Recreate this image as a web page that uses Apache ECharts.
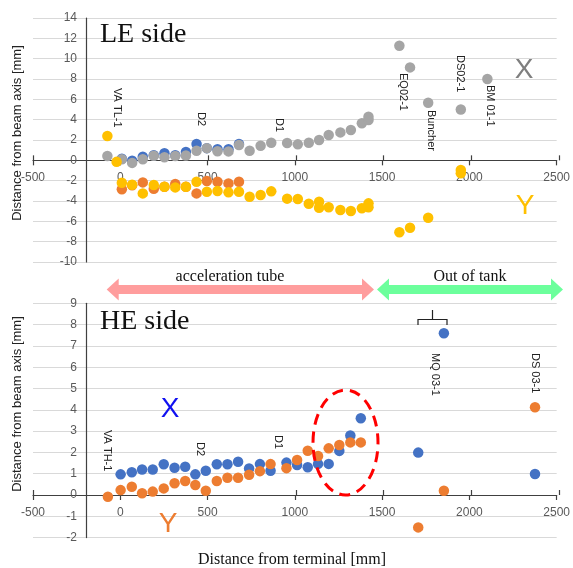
<!DOCTYPE html>
<html>
<head>
<meta charset="utf-8">
<script src="https://cdn.jsdelivr.net/npm/echarts@6/dist/echarts.min.js"></script>
<style>
html,body{margin:0;padding:0;background:#fff;}
#c{width:573px;height:568px;}
</style>
</head>
<body>
<div id="c"></div>
<script>
// ---------- DATA ----------
const xTicks = [-500, 0, 500, 1000, 1500, 2000, 2500];
const leYRange = [-10, 14, 2];   // min, max, step
const heYRange = [-2, 9, 1];

// LE side
const leBlueX   = [9, 68, 129, 192, 253, 315, 376, 437, 496, 557, 620, 680];
const leBlueY   = [0.15, -0.04, 0.36, 0.5, 0.69, 0.5, 0.82, 1.6, 1.2, 1.1, 1.1, 1.6];
const leOrangeX = [9, 68, 129, 192, 253, 315, 376, 437, 496, 557, 620, 680];
const leOrangeY = [-2.85, -2.46, -2.17, -2.79, -2.6, -2.33, -2.6, -3.25, -2.04, -2.1, -2.27, -2.1];
const leGrayX   = [-74, 9, 68, 129, 192, 253, 315, 376, 437, 496, 557, 620, 680, 741, 804, 865, 956, 1017, 1080, 1139, 1194, 1261, 1321, 1384, 1422, 1422, 1599, 1660, 1764, 1951, 2103];
const leGrayY   = [0.42, 0.1, -0.25, 0.1, 0.45, 0.3, 0.43, 0.48, 0.95, 1.2, 0.9, 0.88, 1.5, 0.95, 1.43, 1.73, 1.7, 1.57, 1.73, 2.0, 2.49, 2.75, 2.98, 3.64, 3.96, 4.29, 11.27, 9.14, 5.66, 5.0, 8.0];
const leYellowX = [-74, -21, 9, 68, 129, 192, 253, 315, 376, 437, 496, 557, 620, 680, 741, 804, 865, 956, 1017, 1080, 1139, 1139, 1194, 1261, 1321, 1384, 1422, 1422, 1599, 1660, 1764, 1951, 1951];
const leYellowY = [2.39, -0.15, -2.2, -2.4, -3.25, -2.43, -2.6, -2.66, -2.6, -2.1, -3.09, -3.02, -3.15, -3.09, -3.58, -3.41, -3.05, -3.77, -3.8, -4.27, -4.07, -4.66, -4.62, -4.89, -4.99, -4.72, -4.23, -4.62, -7.08, -6.63, -5.64, -0.95, -1.28];

// HE side
const heBlueX   = [2, 66, 125, 186, 249, 311, 372, 430, 490, 553, 614, 675, 738, 800, 861, 952, 1013, 1074, 1133, 1194, 1255, 1318, 1378, 1707, 1854, 2376];
const heBlueY   = [0.97, 1.07, 1.2, 1.2, 1.44, 1.28, 1.33, 0.97, 1.14, 1.44, 1.44, 1.56, 1.25, 1.45, 1.14, 1.52, 1.41, 1.3, 1.46, 1.46, 2.07, 2.79, 3.6, 1.99, 7.59, 0.99];
const heOrangeX = [-71, 2, 66, 125, 186, 249, 311, 372, 430, 490, 553, 614, 675, 738, 800, 861, 952, 1013, 1074, 1133, 1194, 1255, 1318, 1378, 1707, 1854, 2376];
const heOrangeY = [-0.08, 0.23, 0.39, 0.08, 0.16, 0.31, 0.55, 0.66, 0.47, 0.2, 0.66, 0.81, 0.81, 0.95, 1.12, 1.45, 1.26, 1.64, 2.08, 1.83, 2.19, 2.35, 2.47, 2.47, -1.52, 0.2, 4.12];

const leLabels = [
  {t: 'VA TL-1', x: 117, y: 88}, {t: 'D2', x: 201, y: 112}, {t: 'D1', x: 279, y: 118},
  {t: 'EQ02-1', x: 403, y: 73}, {t: 'Buncher', x: 431, y: 110},
  {t: 'DS02-1', x: 460, y: 55}, {t: 'BM 01-1', x: 490, y: 85}
];
const heLabels = [
  {t: 'VA TH-1', x: 107, y: 430}, {t: 'D2', x: 200, y: 442}, {t: 'D1', x: 278, y: 435},
  {t: 'MQ 03-1', x: 435, y: 353}, {t: 'DS 03-1', x: 535, y: 353}
];

// ---------- CHART ----------
const zip = (xs, ys) => xs.map((x, i) => [x, ys[i]]);
const chart = echarts.init(document.getElementById('c'), null, {renderer: 'canvas'});

const SANS = 'Liberation Sans';
const SERIF = 'Liberation Serif';
const axisCol = '#404040';
const xMin = xTicks[0], xMax = xTicks[xTicks.length - 1], xStep = xTicks[1] - xTicks[0];

const g0 = {left: 33, top: 18, width: 526, height: 244};
const g1 = {left: 33, top: 303.3, width: 526, height: 234.3};
// distance (px) from grid bottom up to value 0 of the y axis
const zeroUp = (g, r) => (0 - r[0]) / (r[1] - r[0]) * g.height;

function mainXAxis(gridIndex, up, margin) {
  return {
    type: 'value', gridIndex, min: xMin, max: xMax, interval: xStep, position: 'bottom', offset: -up,
    axisLine: {onZero: false, lineStyle: {color: axisCol, width: 1.2}},
    axisTick: {show: true, length: 5, lineStyle: {color: axisCol, width: 1.2}},
    axisLabel: {color: '#595959', fontSize: 12, fontFamily: SANS, margin: margin, showMinLabel: true, showMaxLabel: true,
      hideOverlap: false, formatter: v => String(v)},
    splitLine: {show: false}
  };
}
function tickXAxis(gridIndex, up) {
  return {
    type: 'value', gridIndex, min: xMin, max: xMax, interval: xStep, position: 'bottom', offset: -up,
    axisLine: {onZero: false, show: false},
    axisTick: {show: true, length: 5, inside: true, lineStyle: {color: axisCol, width: 1.2}},
    axisLabel: {show: false},
    splitLine: {show: false}
  };
}
function yAxis(gridIndex, r) {
  return {
    type: 'value', gridIndex, min: r[0], max: r[1], interval: r[2], position: 'left', offset: -53,
    axisLine: {show: true, onZero: false, lineStyle: {color: axisCol, width: 1.2}},
    axisTick: {show: false},
    axisLabel: {color: '#595959', fontSize: 12, fontFamily: SANS, margin: 9, formatter: v => String(v)},
    splitLine: {show: true, lineStyle: {color: '#d9d9d9', width: 1.2}}
  };
}
function hiddenY(gridIndex, r) {
  return {type: 'value', gridIndex, min: r[0], max: r[1], interval: r[2], show: false,
    axisLine: {onZero: false}, splitLine: {show: false}};
}
function sc(name, xs, ys, color, xi, yi, z) {
  return {
    name, type: 'scatter', xAxisIndex: xi, yAxisIndex: yi, data: zip(xs, ys),
    symbolSize: 10.5, itemStyle: {color: color, opacity: 1}, z: z, silent: true
  };
}

function vText(l) {
  return {
    type: 'text', x: l.x, y: l.y, rotation: -Math.PI / 2, z: 50,
    style: {text: l.t, fill: '#222', font: '11px "' + SANS + '"', textAlign: 'left', textVerticalAlign: 'middle'}
  };
}
function arrow(x1, x2, cy, color) {
  const sh = 4.5, hh = 11, hl = 12;
  return {
    type: 'polygon', z: 40,
    shape: {points: [
      [x1, cy], [x1 + hl, cy - hh], [x1 + hl, cy - sh], [x2 - hl, cy - sh], [x2 - hl, cy - hh],
      [x2, cy], [x2 - hl, cy + hh], [x2 - hl, cy + sh], [x1 + hl, cy + sh], [x1 + hl, cy + hh]
    ]},
    style: {fill: color}
  };
}
function txt(t, x, y, font, color, extra) {
  return Object.assign({
    type: 'text', x, y, z: 60,
    style: {text: t, fill: color, font: font, textAlign: 'center', textVerticalAlign: 'middle'}
  }, extra || {});
}

const graphics = [
  ...leLabels.map(vText), ...heLabels.map(vText),
  arrow(106.7, 374, 289.5, '#ff9d9d'),
  arrow(377, 563, 289.5, '#6cff9c'),
  txt('acceleration tube', 230, 277, '16px "' + SERIF + '"', '#111'),
  txt('Out of tank', 470, 277, '16px "' + SERIF + '"', '#111'),
  {type: 'text', x: 100, y: 35, z: 60, style: {text: 'LE side', fill: '#111', font: '28px "' + SERIF + '"', textAlign: 'left', textVerticalAlign: 'middle'}},
  {type: 'text', x: 100, y: 322, z: 60, style: {text: 'HE side', fill: '#111', font: '28px "' + SERIF + '"', textAlign: 'left', textVerticalAlign: 'middle'}},
  txt('X', 524, 70, '28px "' + SANS + '"', '#7f7f7f'),
  txt('Y', 525, 206, '28px "' + SANS + '"', '#ffc000'),
  txt('X', 170, 409, '28px "' + SANS + '"', '#1010f0'),
  txt('Y', 168, 524, '28px "' + SANS + '"', '#ed7d31'),
  txt('Distance from beam axis [mm]', 17, 133, '13px "' + SANS + '"', '#222', {rotation: Math.PI / 2}),
  txt('Distance from beam axis [mm]', 17, 404, '13px "' + SANS + '"', '#222', {rotation: Math.PI / 2}),
  txt('Distance from terminal [mm]', 292, 560, '16px "' + SERIF + '"', '#111'),
  {type: 'ellipse', z: 45, shape: {cx: 345.5, cy: 442.5, rx: 32.5, ry: 52.5},
   style: {fill: 'none', stroke: '#ff0000', lineWidth: 3, lineDash: [11, 7]}},
  {type: 'polyline', z: 45, shape: {points: [[418, 325], [418, 319.5], [447, 319.5], [447, 325]]},
   style: {stroke: '#222', lineWidth: 1.2, fill: 'none'}},
  {type: 'line', z: 45, shape: {x1: 432.5, y1: 310, x2: 432.5, y2: 319.5},
   style: {stroke: '#222', lineWidth: 1.2}}
];

const up0 = zeroUp(g0, leYRange), up1 = zeroUp(g1, heYRange);

chart.setOption({
  animation: false,
  backgroundColor: '#fff',
  grid: [g0, g1, Object.assign({}, g0), Object.assign({}, g1)],
  xAxis: [mainXAxis(0, up0, 11), mainXAxis(1, up1, 12), tickXAxis(2, up0), tickXAxis(3, up1)],
  yAxis: [yAxis(0, leYRange), yAxis(1, heYRange), hiddenY(2, leYRange), hiddenY(3, heYRange)],
  series: [
    sc('LE X (blue)', leBlueX, leBlueY, '#4472c4', 0, 0, 2),
    sc('LE Y (orange)', leOrangeX, leOrangeY, '#ed7d31', 0, 0, 2),
    sc('LE X', leGrayX, leGrayY, '#a5a5a5', 0, 0, 3),
    sc('LE Y', leYellowX, leYellowY, '#ffc000', 0, 0, 3),
    sc('HE X', heBlueX, heBlueY, '#4472c4', 1, 1, 2),
    sc('HE Y', heOrangeX, heOrangeY, '#ed7d31', 1, 1, 3)
  ],
  graphic: graphics
});
</script>
</body>
</html>
